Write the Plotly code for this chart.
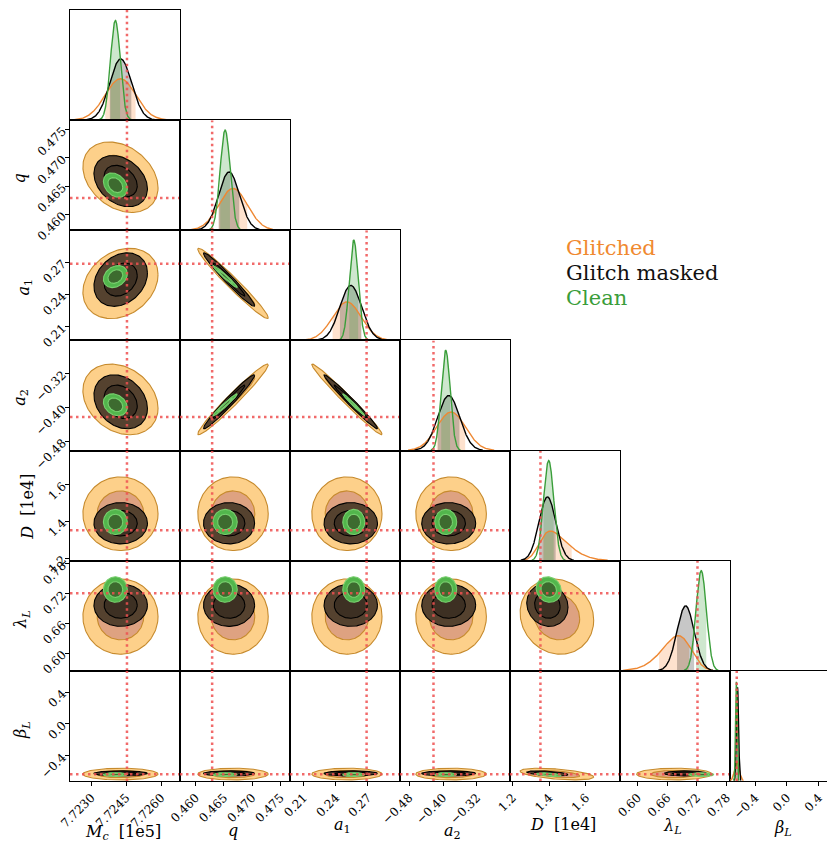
import math
import numpy as np
import plotly.graph_objects as go

# ---------------- data ----------------
param_labels = ['<i>M</i><sub><i>c</i></sub>  [1e5]', '<i>q</i>', '<i>a</i><sub>1</sub>',
                '<i>a</i><sub>2</sub>', '<i>D</i>  [1e4]', '<i>λ</i><sub><i>L</i></sub>',
                '<i>β</i><sub><i>L</i></sub>']

axis_lo = [7.72208, 0.45720, 0.1972, -0.5015, 1.1858, 0.5645, -0.715]
axis_hi = [7.72681, 0.47670, 0.3000, -0.2421, 1.7862, 0.7866, 0.666]
truth = [7.72453, 0.46290, 0.2688, -0.4225, 1.3520, 0.7210, -0.630]

tick_vals = [[7.7230, 7.7245, 7.7260], [0.460, 0.465, 0.470, 0.475],
             [0.21, 0.24, 0.27], [-0.48, -0.40, -0.32], [1.2, 1.4, 1.6],
             [0.60, 0.66, 0.72, 0.78], [-0.4, 0.0, 0.4]]
tick_text = [["7.7230", "7.7245", "7.7260"], ["0.460", "0.465", "0.470", "0.475"],
             ["0.21", "0.24", "0.27"], ["−0.48", "−0.40", "−0.32"],
             ["1.2", "1.4", "1.6"], ["0.60", "0.66", "0.72", "0.78"],
             ["−0.4", "0.0", "0.4"]]

glitched_mean = [7.72425, 0.4666, 0.2504, -0.3810, 1.4420, 0.6740, -0.628]
glitched_std = [0.00066, 0.00255, 0.0134, 0.0340, 0.0820, 0.0310, 0.030]
glitched_skew = [0.0, 0.0, 0.0, 0.0, 3.0, -2.0, 0.0]
glitched_peak = [0.376, 0.38, 0.35, 0.35, 0.27, 0.32, 0.17]

masked_mean = [7.72426, 0.4659, 0.2540, -0.3866, 1.3900, 0.6970, -0.620]
masked_std = [0.00047, 0.00185, 0.0102, 0.0260, 0.0460, 0.0175, 0.013]
masked_skew = [0.0, 0.0, 0.0, 0.0, 0.0, 0.0, 0.0]
masked_peak = [0.556, 0.53, 0.50, 0.50, 0.58, 0.59, 0.85]

clean_mean = [7.72403, 0.4652, 0.2568, -0.3937, 1.3970, 0.7285, -0.635]
clean_std = [0.00021, 0.00088, 0.0042, 0.0106, 0.0280, 0.0105, 0.010]
clean_skew = [0.0, 0.0, 0.0, 0.0, 0.0, 0.0, 0.0]
clean_peak = [0.905, 0.91, 0.91, 0.91, 0.91, 0.91, 0.90]

# pairwise correlations (row parameter j, column parameter i, j > i)
corr = [
    [],
    [-0.30],
    [0.25, -0.975],
    [-0.25, 0.975, -0.985],
    [0.0, 0.0, 0.0, 0.0],
    [0.0, 0.0, 0.0, 0.0, -0.10],
    [0.0, 0.0, 0.0, 0.0, -0.50, 0.0],
]

contour_radii = [2.448, 1.515]  # 95% and 68% levels of a 2-D Gaussian
band_quantiles = [0.16, 0.84]   # shaded band under the 1-D curves

legend_names = ["Glitched", "Glitch masked", "Clean"]

# ---------------- styles ----------------
line_colors = ['#EE8833', '#000000', '#3A9E3A']
hist_fill = ['rgba(250,150,80,0.28)', 'rgba(0,0,0,0.22)', 'rgba(60,160,60,0.25)']
fill2d = [['#FDD08A', '#DEA281'], ['#55422F', '#3D3023'], ['#52B64C', '#3D6B2F']]
edge2d = ['#C68A2D', '#000000', '#78CF6E']
legend_colors = ['#F0892F', '#111111', '#3A9D3A']
truth_color = 'rgba(238,80,80,0.85)'
math_span = '<span style="font-family:DejaVu Sans">{}</span>'

OFF = 8  # page body margin of the html page
W_FIG, H_FIG = 827, 835
L, T, B = 62, 0, 62
PW = W_FIG - L
PH = H_FIG - T - B
s = PH / 7.0

datasets = [(glitched_mean, glitched_std, glitched_skew, glitched_peak),
            (masked_mean, masked_std, masked_skew, masked_peak),
            (clean_mean, clean_std, clean_skew, clean_peak)]

erf = np.frompyfunc(math.erf, 1, 1)


def density_1d(xs, mean, std, alpha, peak):
    """skew-normal shape with given mean / std / skew, scaled to the peak height"""
    delta = alpha / math.sqrt(1 + alpha ** 2)
    omega = std / math.sqrt(1 - 2 * delta ** 2 / math.pi)
    xi = mean - omega * delta * math.sqrt(2 / math.pi)
    z = (xs - xi) / omega
    cdf = 0.5 * (1 + erf(alpha * z / math.sqrt(2)).astype(float))
    pdf = np.exp(-0.5 * z ** 2) * cdf
    return pdf, pdf / pdf.max() * peak


fig = go.Figure()
layout = {}
annotations = []


def px2x(px):
    return (px - OFF - L) / PW


def px2y(py):
    return 1 - (py - OFF - T) / PH


k = 0
for r in range(7):
    for c in range(r + 1):
        k += 1
        xname = 'xaxis' if k == 1 else f'xaxis{k}'
        yname = 'yaxis' if k == 1 else f'yaxis{k}'
        xref = 'x' if k == 1 else f'x{k}'
        yref = 'y' if k == 1 else f'y{k}'
        x0 = c * s / PW
        x1 = min((c + 1) * s / PW, 1.0)
        y1 = 1 - r * s / PH
        y0 = 1 - (r + 1) * s / PH
        lo, hi = axis_lo[c], axis_hi[c]
        if (c + 1) * s > PW:
            hi = lo + (hi - lo) * (PW - c * s) / s
        xa = dict(domain=[x0, x1], range=[lo, hi], anchor=yref, showgrid=False,
                  zeroline=False, showline=True, mirror=True, linecolor='black',
                  linewidth=1, layer='above traces')
        if r == 6:
            xa.update(ticks='outside', ticklen=4, tickwidth=1, tickcolor='black',
                      tickvals=tick_vals[c], ticktext=tick_text[c], tickangle=-45,
                      tickfont=dict(family='DejaVu Serif', size=12, color='black'))
        else:
            xa.update(showticklabels=False, ticks='')
        ya = dict(domain=[y0, y1], anchor=xref, showgrid=False, zeroline=False,
                  showline=True, mirror=True, linecolor='black', linewidth=1,
                  layer='above traces')
        if r == c:
            ya.update(range=[0, 1.0], showticklabels=False, ticks='')
            if (c + 1) * s > PW:
                ya['mirror'] = False
        else:
            ya.update(range=[axis_lo[r], axis_hi[r]])
            if c == 0:
                ya.update(ticks='outside', ticklen=4, tickwidth=1, tickcolor='black',
                          tickvals=tick_vals[r], ticktext=tick_text[r], tickangle=-45,
                          tickfont=dict(family='DejaVu Serif', size=12, color='black'))
            else:
                ya.update(showticklabels=False, ticks='')
        layout[xname] = xa
        layout[yname] = ya

        if r == c:
            curves = []
            for d, (mu, sd, sk, pk) in enumerate(datasets):
                a = max(lo, mu[c] - 6 * sd[c])
                b = min(hi, mu[c] + 6 * sd[c])
                xs = np.linspace(a, b, 600)
                pdf, ys = density_1d(xs, mu[c], sd[c], sk[c], pk[c])
                cum = np.cumsum(pdf)
                cum = cum / cum[-1]
                sel = (cum >= band_quantiles[0]) & (cum <= band_quantiles[1])
                xf, yf = xs[sel], ys[sel]
                curves.append((xs, ys))
                fig.add_trace(go.Scatter(
                    x=np.concatenate([xf, xf[::-1]]),
                    y=np.concatenate([yf, np.zeros_like(yf)]),
                    fill='toself', fillcolor=hist_fill[d], mode='lines',
                    line=dict(width=0), xaxis=xref, yaxis=yref,
                    hoverinfo='skip', showlegend=False))
            for d, (xs, ys) in enumerate(curves):
                keep = ys > 0.004
                fig.add_trace(go.Scatter(
                    x=xs[keep], y=ys[keep], mode='lines',
                    line=dict(color=line_colors[d], width=1.4),
                    xaxis=xref, yaxis=yref, hoverinfo='skip', showlegend=False))
            fig.add_trace(go.Scatter(
                x=[truth[c], truth[c]], y=[0, 1], mode='lines',
                line=dict(color=truth_color, width=2.5, dash='2.5px,3.5px'),
                xaxis=xref, yaxis=yref, hoverinfo='skip', showlegend=False))
        else:
            t = np.linspace(0, 2 * np.pi, 160)
            rho = corr[r][c]
            for d, (mu, sd, sk, pk) in enumerate(datasets):
                for lev, rad in enumerate(contour_radii):
                    ex = mu[c] + sd[c] * rad * np.cos(t)
                    ey = mu[r] + sd[r] * rad * (rho * np.cos(t) +
                                                np.sqrt(1 - rho ** 2) * np.sin(t))
                    fig.add_trace(go.Scatter(
                        x=ex, y=ey, fill='toself', fillcolor=fill2d[d][lev],
                        mode='lines', line=dict(color=edge2d[d], width=1.1),
                        xaxis=xref, yaxis=yref, hoverinfo='skip', showlegend=False))
            fig.add_trace(go.Scatter(
                x=[truth[c], truth[c]], y=[axis_lo[r], axis_hi[r]], mode='lines',
                line=dict(color=truth_color, width=2.5, dash='2.5px,3.5px'),
                xaxis=xref, yaxis=yref, hoverinfo='skip', showlegend=False))
            fig.add_trace(go.Scatter(
                x=[lo, hi], y=[truth[r], truth[r]], mode='lines',
                line=dict(color=truth_color, width=2.5, dash='2.5px,3.5px'),
                xaxis=xref, yaxis=yref, hoverinfo='skip', showlegend=False))

# axis labels (positions in screenshot pixels)
xlab_y = [833, 831, 826, 832, 825, 827, 829]
ylab_x = [20, 19, 24, 20, 27, 22, 22]
ylab_dy = [0, 3, 2, 2, 1, 4, 4]
for i, lab in enumerate(param_labels):
    cx = OFF + L + (i + 0.5) * s - 2
    annotations.append(dict(x=px2x(cx), y=px2y(xlab_y[i]), xref='paper', yref='paper',
                            text=lab, showarrow=False, xanchor='center', yanchor='middle',
                            font=dict(family='DejaVu Serif', size=16, color='black')))
    if i > 0:
        cy = OFF + T + (i + 0.5) * s + ylab_dy[i]
        annotations.append(dict(x=px2x(ylab_x[i]), y=px2y(cy), xref='paper', yref='paper',
                                text=lab, showarrow=False, textangle=-90,
                                xanchor='center', yanchor='middle',
                                font=dict(family='DejaVu Serif', size=16, color='black')))

# legend text
leg_y = [247, 272, 297]
for i, name in enumerate(legend_names):
    annotations.append(dict(x=px2x(566), y=px2y(leg_y[i]), xref='paper', yref='paper',
                            text=name, showarrow=False, xanchor='left', yanchor='middle',
                            font=dict(family='DejaVu Serif', size=21,
                                      color=legend_colors[i])))

fig.update_layout(**layout)
fig.update_layout(width=W_FIG, height=H_FIG,
                  margin=dict(l=L, r=0, t=T, b=B, pad=0),
                  paper_bgcolor='white', plot_bgcolor='white',
                  showlegend=False, annotations=annotations)

fig.write_html("out.html")
